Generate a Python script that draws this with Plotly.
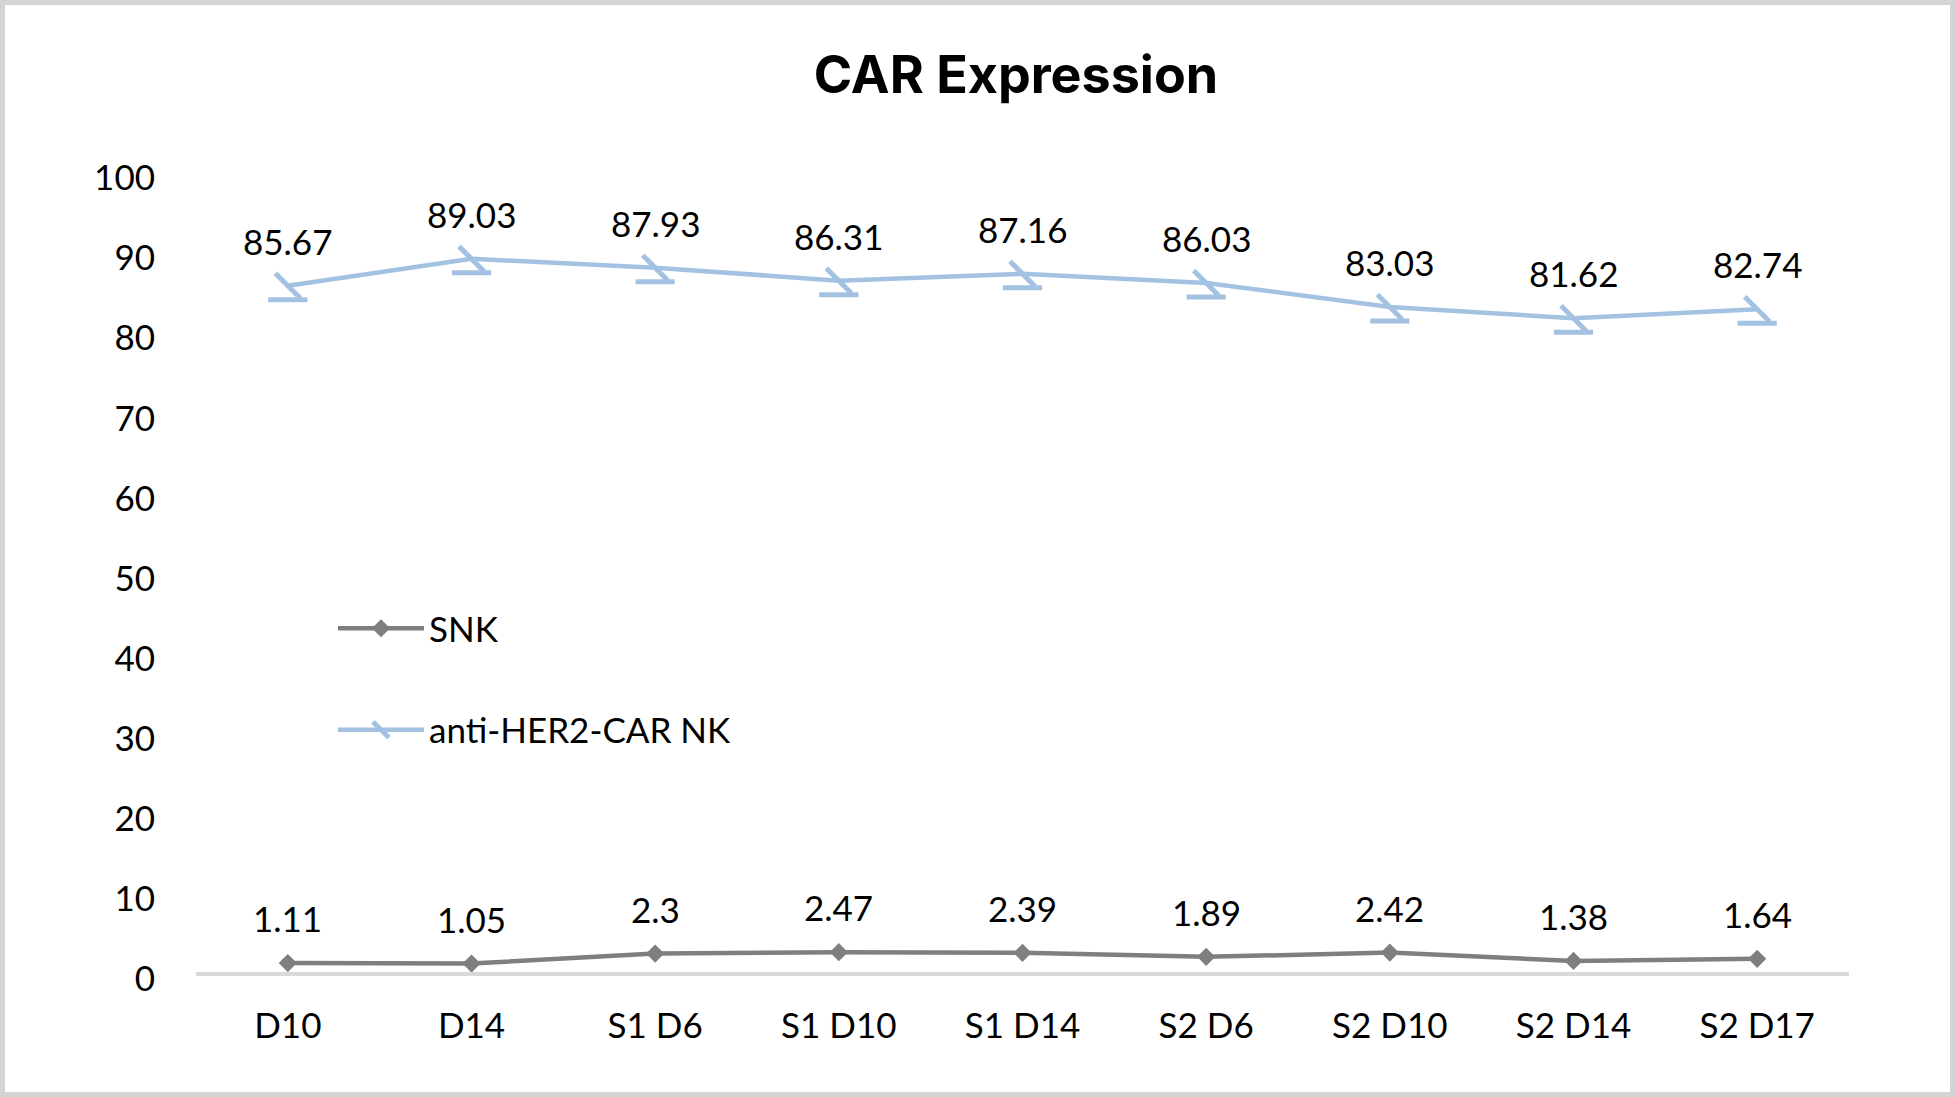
import plotly.graph_objects as go

categories = ["D10", "D14", "S1 D6", "S1 D10", "S1 D14", "S2 D6", "S2 D10", "S2 D14", "S2 D17"]
snk = [1.11, 1.05, 2.3, 2.47, 2.39, 1.89, 2.42, 1.38, 1.64]
car_nk = [85.67, 89.03, 87.93, 86.31, 87.16, 86.03, 83.03, 81.62, 82.74]
y_ticks = [0, 10, 20, 30, 40, 50, 60, 70, 80, 90, 100]

W, H = 1955, 1097
ML, MR, MT, MB = 196, 106, 171, 111
PW = W - ML - MR
PH = H - MT - MB
SHIFT = 14  # px offset for the bar part of the custom marker
d = SHIFT / PH

TICK_FONT = "Lato, Carlito, Calibri, sans-serif"
FS = 35
GRAY = "#7f7f80"
BLUE = "#a3c2e2"

fig = go.Figure()

fig.add_trace(go.Scatter(
    x=categories, y=snk, name="SNK", mode="lines+markers",
    line=dict(color=GRAY, width=4.5),
    marker=dict(symbol="diamond", size=14, color=GRAY),
    legendgroup="a", xaxis="x", yaxis="y",
))
fig.add_trace(go.Scatter(
    x=categories, y=car_nk, name="anti-HER2-CAR NK", mode="lines+markers",
    line=dict(color=BLUE, width=4.5),
    marker=dict(symbol="line-nw", size=25, color=BLUE, line=dict(color=BLUE, width=5)),
    legendgroup="b", xaxis="x", yaxis="y",
))
# lower bar of the custom marker, drawn on a y-axis shifted down by a few pixels
fig.add_trace(go.Scatter(
    x=categories, y=car_nk, mode="markers", showlegend=False, hoverinfo="skip",
    marker=dict(symbol="line-ew", size=28, color=BLUE, line=dict(color=BLUE, width=5)),
    xaxis="x", yaxis="y3",
))

annotations = []
for series in (snk, car_nk):
    for c, v in zip(categories, series):
        annotations.append(dict(
            x=c, y=v, xref="x", yref="y", text=f"{v:g}", showarrow=False,
            yshift=45, yanchor="middle", xanchor="center",
            font=dict(family=TICK_FONT, size=FS, color="#000000"),
        ))

fig.update_layout(
    width=W, height=H,
    margin=dict(l=ML, r=MR, t=MT, b=MB, pad=0),
    paper_bgcolor="white", plot_bgcolor="rgba(0,0,0,0)",
    title=dict(
        text="CAR Expression", xref="paper", x=(1016 - ML) / PW, xanchor="center",
        yref="container", y=1 - 75 / H, yanchor="middle",
        font=dict(family="Inter, Lato, sans-serif", size=52, weight=700, color="#000000"),
    ),
    xaxis=dict(
        type="category", categoryorder="array", categoryarray=categories,
        anchor="y", showgrid=False, zeroline=False,
        showline=True, linecolor="#d9d9d9", linewidth=4,
        ticks="", ticklabelstandoff=20,
        tickfont=dict(family=TICK_FONT, size=FS, color="#000000"),
        range=[-0.5, len(categories) - 0.5],
    ),
    yaxis=dict(
        domain=[d, 1], anchor="x", range=[0, 100],
        tickvals=y_ticks, ticktext=[str(t) for t in y_ticks],
        showgrid=False, zeroline=False, showline=False, ticks="",
        ticklabelstandoff=40, ticklabelshift=7,
        tickfont=dict(family=TICK_FONT, size=FS, color="#000000"),
    ),
    yaxis3=dict(domain=[0, 1 - d], anchor="x", range=[0, 100], visible=False),
    legend=dict(
        x=(333 - ML) / PW, xanchor="left", y=(H - MB - 599) / PH, yanchor="top",
        bgcolor="rgba(0,0,0,0)", borderwidth=0, tracegroupgap=53,
        font=dict(family=TICK_FONT, size=FS, color="#000000"),
        itemwidth=86,
    ),
    annotations=annotations,
    shapes=[dict(
        type="rect", xref="paper", yref="paper",
        x0=(2.5 - ML) / PW, x1=(W - 2.5 - ML) / PW,
        y0=(H - MB - (H - 2.5)) / PH, y1=(H - MB - 2.5) / PH,
        line=dict(color="#d4d4d6", width=5), fillcolor="rgba(0,0,0,0)", layer="above",
    )],
    showlegend=True,
)

fig.write_html(
    "out.html",
    config={"displayModeBar": False},
    post_script="document.body.style.margin='0';document.body.style.overflow='hidden';",
)
